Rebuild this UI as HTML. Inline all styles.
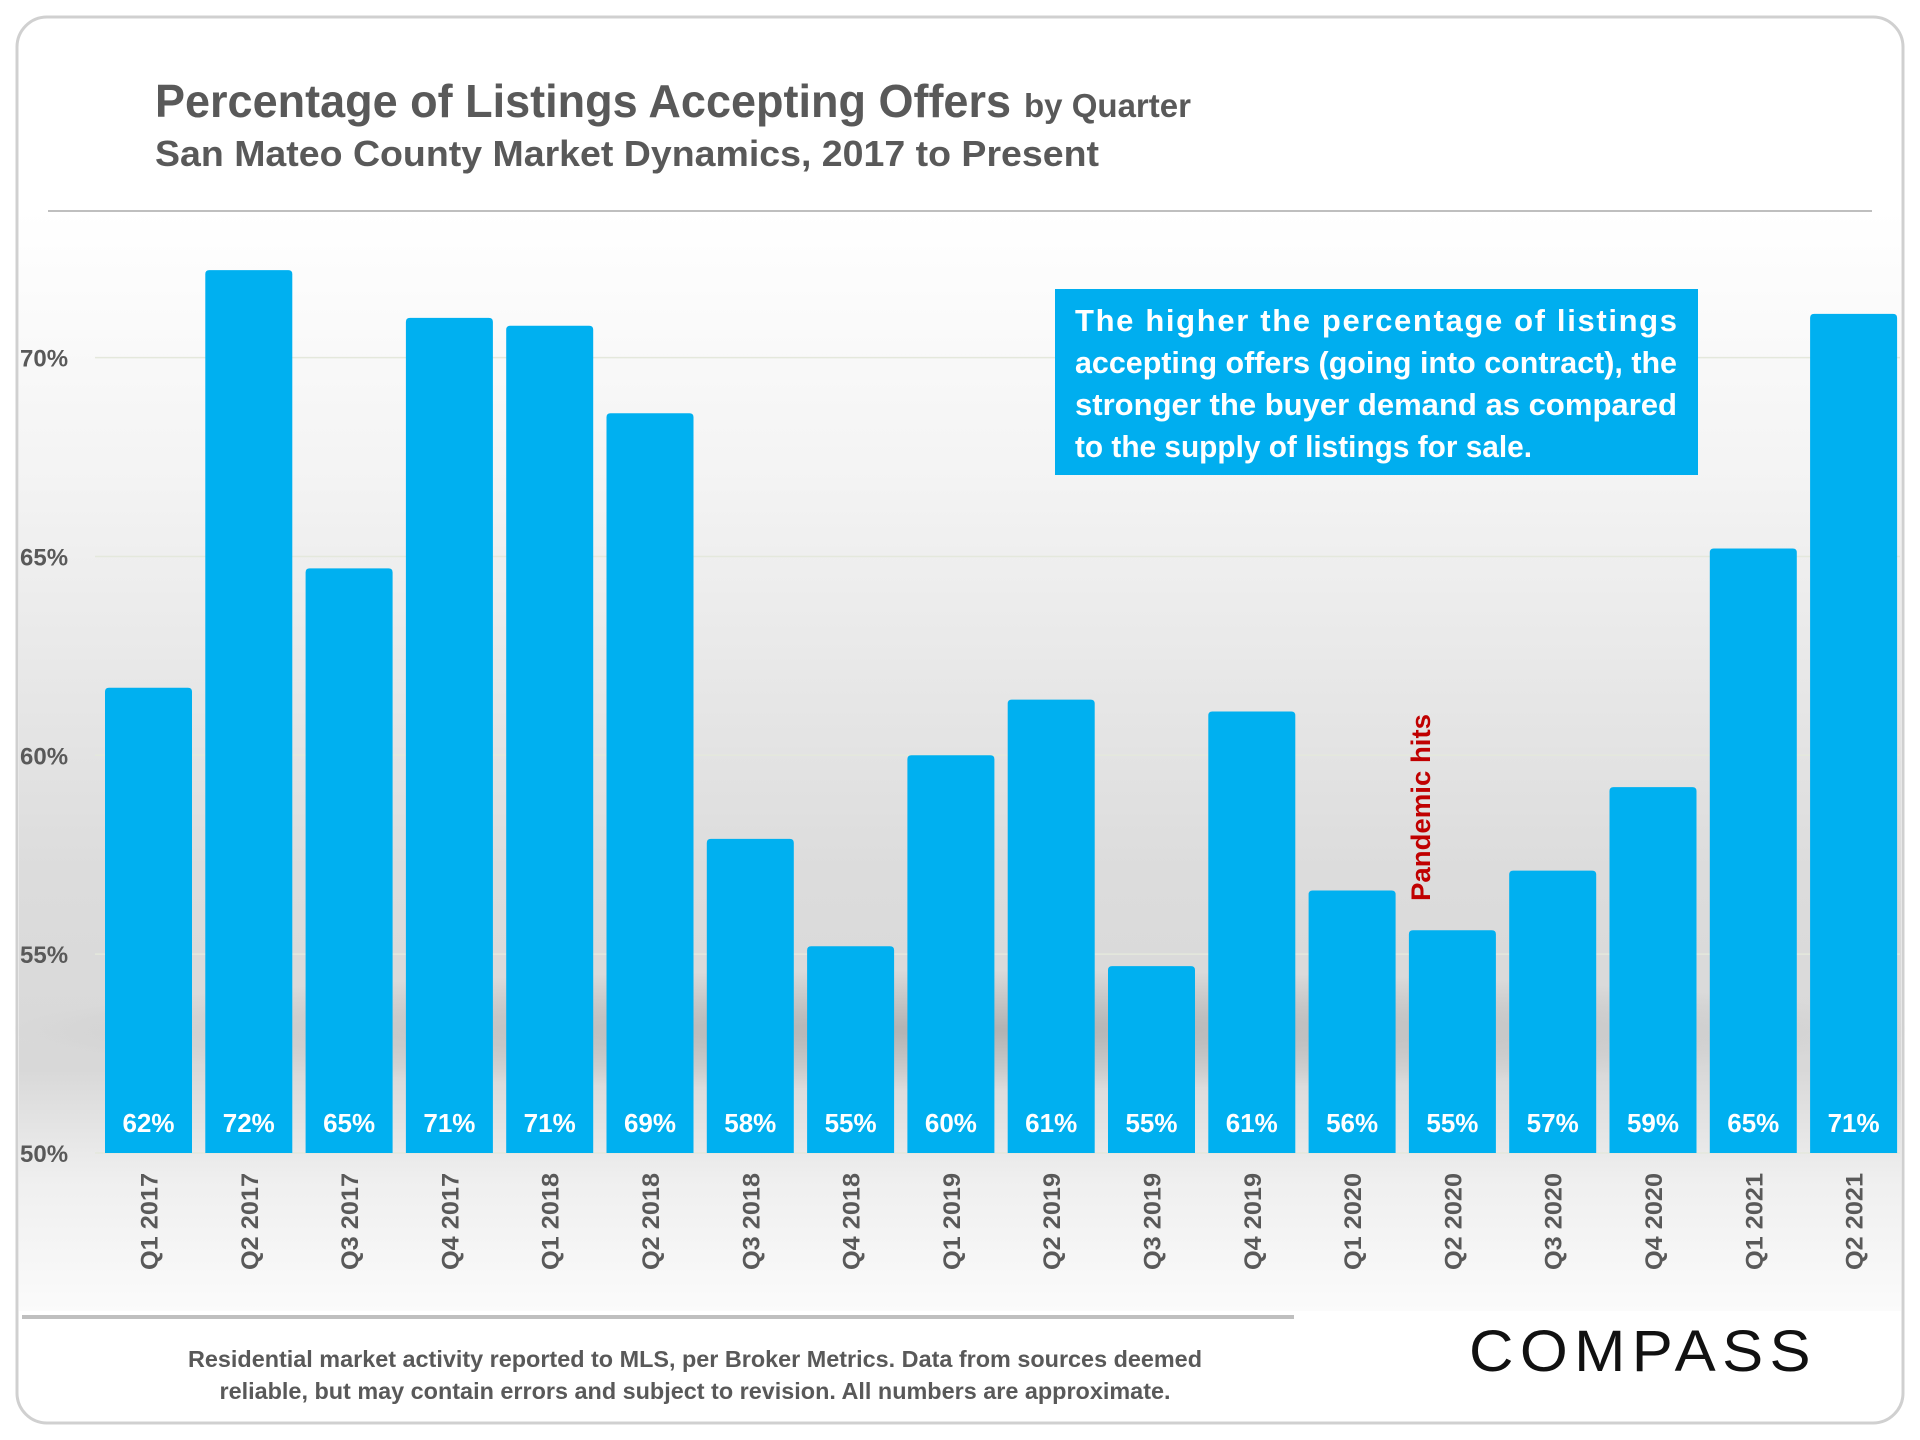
<!DOCTYPE html>
<html><head><meta charset="utf-8">
<style>
html,body{margin:0;padding:0;background:#fff;}
svg{display:block;}
text{font-family:"Liberation Sans",sans-serif;}
</style></head>
<body>
<svg id="chart" width="1920" height="1440" viewBox="0 0 1920 1440" xmlns="http://www.w3.org/2000/svg">
<defs>
<linearGradient id="bg" x1="0" y1="0" x2="0" y2="1">
<stop offset="0" stop-color="#ffffff"/>
<stop offset="0.25" stop-color="#f3f3f3"/>
<stop offset="0.6" stop-color="#dcdcdc"/>
<stop offset="0.78" stop-color="#d8d8d8"/>
<stop offset="0.88" stop-color="#efefef"/>
<stop offset="1" stop-color="#fbfbfb"/>
</linearGradient>
<radialGradient id="shadow" cx="0.5" cy="0.5" r="0.5">
<stop offset="0" stop-color="#a0a0a0" stop-opacity="0.7"/>
<stop offset="1" stop-color="#a0a0a0" stop-opacity="0"/>
</radialGradient>
</defs>
<rect x="17" y="17" width="1886" height="1406" rx="30" fill="#fff" stroke="#d0d0d0" stroke-width="3"/>
<rect x="19" y="211" width="1882" height="1100" fill="url(#bg)"/>
<ellipse cx="960" cy="1030" rx="950" ry="60" fill="url(#shadow)"/>
<line x1="48" y1="211" x2="1872" y2="211" stroke="#bfbfbf" stroke-width="2"/>
<line x1="22" y1="1317" x2="1294" y2="1317" stroke="#bfbfbf" stroke-width="4"/>
<text x="155" y="117" font-size="46" font-weight="bold" fill="#595959" textLength="856" lengthAdjust="spacingAndGlyphs">Percentage of Listings Accepting Offers</text>
<text x="1024" y="117" font-size="33" font-weight="bold" fill="#595959" textLength="167" lengthAdjust="spacingAndGlyphs">by Quarter</text>
<text x="155" y="166" font-size="36" font-weight="bold" fill="#595959" textLength="944" lengthAdjust="spacingAndGlyphs">San Mateo County Market Dynamics, 2017 to Present</text>
<g id="grid"></g>
<g id="yaxis"></g>
<g id="bars"></g>
<g id="xaxis"></g>
<rect x="1055" y="289" width="643" height="186" fill="#00aeef"/>
<g font-size="31" font-weight="bold" fill="#fff">
<text x="1075" y="331" textLength="602" lengthAdjust="spacing">The higher the percentage of listings</text>
<text x="1075" y="373" textLength="602" lengthAdjust="spacingAndGlyphs">accepting offers (going into contract), the</text>
<text x="1075" y="415" textLength="602" lengthAdjust="spacingAndGlyphs">stronger the buyer demand as compared</text>
<text x="1075" y="457" textLength="457" lengthAdjust="spacingAndGlyphs">to the supply of listings for sale.</text>
</g>
<text transform="translate(1430,901) rotate(-90)" font-size="27" font-weight="bold" fill="#c00000" textLength="187" lengthAdjust="spacingAndGlyphs">Pandemic hits</text>
<g font-size="23" font-weight="bold" fill="#595959" text-anchor="middle">
<text x="695" y="1367" textLength="1014" lengthAdjust="spacingAndGlyphs">Residential market activity reported to MLS, per Broker Metrics. Data from sources deemed</text>
<text x="695" y="1399" textLength="951" lengthAdjust="spacingAndGlyphs">reliable, but may contain errors and subject to revision. All numbers are approximate.</text>
</g>
<text x="1469" y="1371" font-size="58" fill="#111" textLength="348" lengthAdjust="spacingAndGlyphs" letter-spacing="6">COMPASS</text>
<script>
const categories=["Q1 2017","Q2 2017","Q3 2017","Q4 2017","Q1 2018","Q2 2018","Q3 2018","Q4 2018","Q1 2019","Q2 2019","Q3 2019","Q4 2019","Q1 2020","Q2 2020","Q3 2020","Q4 2020","Q1 2021","Q2 2021"];
const values=[61.7,72.2,64.7,71.0,70.8,68.6,57.9,55.2,60.0,61.4,54.7,61.1,56.6,55.6,57.1,59.2,65.2,71.1];
const valueLabels=["62%","72%","65%","71%","71%","69%","58%","55%","60%","61%","55%","61%","56%","55%","57%","59%","65%","71%"];
const yTicks=[50,55,60,65,70];
const yTickLabels=["50%","55%","60%","65%","70%"];

const NS="http://www.w3.org/2000/svg";
const yMin=50,yMax=70,yBottom=1153,yTop=357.6;
function y(v){return yBottom-(v-yMin)/(yMax-yMin)*(yBottom-yTop);}
const x0=105,pitch=100.3,bw=87;
function x(i){return x0+i*pitch;}
function mk(tag,attrs,parent,txt){const e=document.createElementNS(NS,tag);for(const k in attrs)e.setAttribute(k,attrs[k]);if(txt!==undefined)e.textContent=txt;parent.appendChild(e);return e;}
const grid=document.getElementById('grid'),ya=document.getElementById('yaxis'),bars=document.getElementById('bars'),xa=document.getElementById('xaxis');
yTicks.forEach((t,i)=>{
  const l=mk('line',{x1:95,x2:1900,y1:y(t),y2:y(t),stroke:'#e4e8dc','stroke-width':1.5},grid);
  
  
  const tx=mk('text',{x:20,y:y(t)+9,'font-size':24,'font-weight':'bold',fill:'#595959'},ya,yTickLabels[i]);
  
  
});
values.forEach((v,i)=>{
  const r=mk('path',{d:`M${x(i)},${y(yMin)} V${y(v)+4} Q${x(i)},${y(v)} ${x(i)+4},${y(v)} H${x(i)+bw-4} Q${x(i)+bw},${y(v)} ${x(i)+bw},${y(v)+4} V${y(yMin)} Z`,fill:'#00b0f0'},bars);
  
  
  const vl=mk('text',{x:x(i)+bw/2,y:1132,'font-size':26,'font-weight':'bold',fill:'#fff','text-anchor':'middle'},bars,valueLabels[i]);
  
  
  const cx=x(i)+bw/2+9;
  const xl=mk('text',{transform:`translate(${cx},1173) rotate(-90)`,'font-size':24,'font-weight':'bold',fill:'#595959','text-anchor':'end',textLength:97,lengthAdjust:'spacingAndGlyphs'},xa,categories[i]);
  
  
});
</script>
</svg>
</body></html>
